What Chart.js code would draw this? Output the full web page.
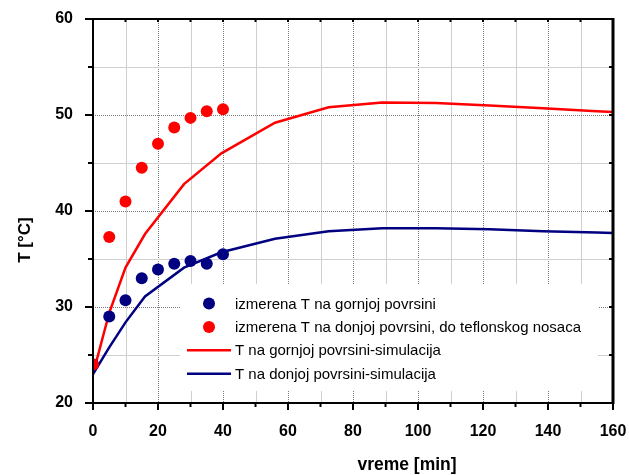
<!DOCTYPE html>
<html>
<head>
<meta charset="utf-8">
<script src="https://cdn.jsdelivr.net/npm/chart.js@4/dist/chart.umd.min.js"></script>
<style>
  html, body { margin: 0; padding: 0; background: #fff; }
  #wrap { width: 629px; height: 475px; }
</style>
</head>
<body>
<div id="wrap"><canvas id="chartTemp"></canvas></div>
<script>
// measured surface temperatures [min] -> [°C]
var timeMeasured = [0, 5, 10, 15, 20, 25, 30, 35, 40];
var tempTopMeasured = [24, 29.0, 30.7, 33.0, 33.9, 34.5, 34.8, 34.5, 35.5];
var tempBottomMeasured = [24, 37.3, 41.0, 44.5, 47.0, 48.7, 49.7, 50.4, 50.6];

// simulation output
var timeSim = [0, 5, 10, 16, 28, 39.5, 56, 72.5, 89, 105.5, 122, 138.5, 155, 160];
var tempTopSim = [23.0, 29.4, 34.1, 37.6, 42.8, 46.0, 49.2, 50.8, 51.3, 51.25, 51.0, 50.7, 50.4, 50.3];
var tempBottomSim = [23.0, 25.8, 28.4, 31.1, 34.1, 35.7, 37.1, 37.9, 38.2, 38.2, 38.1, 37.9, 37.75, 37.7];

var seriesLabels = [
	'izmerena T na gornjoj povrsini',
	'izmerena T na donjoj povrsini, do teflonskog nosaca',
	'T na gornjoj povrsini-simulacija',
	'T na donjoj povrsini-simulacija'
];

var xTitle = 'vreme [min]';
var yTitle = 'T [°C]';

var RED = '#ff0000';
var NAVY = '#000080';

function toPoints(xs, ys) {
	var pts = [];
	for (var i = 0; i < xs.length; i++) pts.push({ x: xs[i], y: ys[i] });
	return pts;
}

// grid, frame and tick marks are drawn here so major/minor lines can differ
var framePlugin = {
	id: 'frame',
	beforeDatasetsDraw: function(chart) {
		var ctx = chart.ctx, a = chart.chartArea;
		var xs = chart.scales.x, ys = chart.scales.y;
		ctx.save();
		for (var v = 10; v < 160; v += 10) {
			var px = Math.round(xs.getPixelForValue(v)) + 0.5;
			gridLine(ctx, px, a.top, px, a.bottom, v % 20 === 0);
		}
		for (var w = 25; w < 60; w += 5) {
			var py = Math.round(ys.getPixelForValue(w)) + 0.5;
			gridLine(ctx, a.left, py, a.right, py, w % 10 === 0);
		}
		ctx.restore();
	},
	afterDatasetsDraw: function(chart) {
		var ctx = chart.ctx, a = chart.chartArea;
		var xs = chart.scales.x, ys = chart.scales.y;
		ctx.save();
		ctx.strokeStyle = '#000';
		ctx.setLineDash([]);

		// tick marks
		ctx.lineWidth = 2;
		for (var v = 0; v <= 160; v += 10) {
			var px = xs.getPixelForValue(v);
			var major = v % 20 === 0;
			line(ctx, px, a.bottom, px, a.bottom + (major ? 7 : 4));
			line(ctx, px, a.top, px, a.top + 3);
		}
		for (var w = 20; w <= 60; w += 5) {
			var py = ys.getPixelForValue(w);
			var majorY = w % 10 === 0;
			line(ctx, a.left, py, a.left - (majorY ? 8 : 5), py);
			line(ctx, a.right, py, a.right - 4, py);
		}

		// axis box
		ctx.lineWidth = 2;
		line(ctx, a.left, a.top, a.left, a.bottom + 1);
		line(ctx, a.left - 1, a.bottom, a.right, a.bottom);
		line(ctx, a.left - 1, a.top, a.right, a.top);
		ctx.lineWidth = 3;
		line(ctx, a.right, a.top - 1, a.right, a.bottom + 1);

		drawLegend(chart);

		// axis titles
		ctx.fillStyle = '#000';
		ctx.textAlign = 'center';
		ctx.textBaseline = 'middle';
		ctx.font = 'bold 17.5px "Liberation Sans", Arial, sans-serif';
		ctx.fillText(xTitle, 407, 465);
		ctx.translate(25, 240);
		ctx.rotate(-Math.PI / 2);
		ctx.font = 'bold 17px "Liberation Sans", Arial, sans-serif';
		ctx.fillText(yTitle, 0, 0);
		ctx.restore();
	}
};

function line(ctx, x1, y1, x2, y2) {
	ctx.beginPath();
	ctx.moveTo(x1, y1);
	ctx.lineTo(x2, y2);
	ctx.stroke();
}

function gridLine(ctx, x1, y1, x2, y2, major) {
	ctx.lineWidth = 1;
	if (major) {
		ctx.strokeStyle = '#7a7a7a';
		ctx.setLineDash([1, 1]);
	} else {
		ctx.strokeStyle = '#cfcfcf';
		ctx.setLineDash([]);
	}
	line(ctx, x1, y1, x2, y2);
	ctx.setLineDash([]);
}

function drawLegend(chart) {
	var ctx = chart.ctx;
	var sets = chart.data.datasets;
	ctx.fillStyle = '#fff';
	ctx.fillRect(180, 284, 418, 107);
	ctx.font = '15px "Liberation Sans", Arial, sans-serif';
	ctx.textAlign = 'left';
	ctx.textBaseline = 'middle';
	for (var i = 0; i < sets.length; i++) {
		var ds = sets[i];
		var y = 303.5 + i * 23.4;
		if (ds.showLine) {
			ctx.strokeStyle = ds.borderColor;
			ctx.lineWidth = 2.5;
			line(ctx, 187, y, 231, y);
		} else {
			ctx.fillStyle = ds.backgroundColor;
			ctx.beginPath();
			ctx.arc(209, y, 6, 0, Math.PI * 2);
			ctx.fill();
		}
		ctx.fillStyle = '#000';
		ctx.fillText(ds.label, 235, y + 1);
	}
}

var tickFont = { family: '"Liberation Sans", Arial, sans-serif', size: 16, weight: 'bold' };

var ctxTemp = document.getElementById('chartTemp').getContext('2d');
var chartTemp = new Chart(ctxTemp, {
	type: 'scatter',
	data: {
		datasets: [{
			label: seriesLabels[0],
			data: toPoints(timeMeasured, tempTopMeasured),
			backgroundColor: NAVY,
			borderColor: NAVY,
			pointRadius: 6,
			borderWidth: 0,
			showLine: false,
			order: 3
		}, {
			label: seriesLabels[1],
			data: toPoints(timeMeasured, tempBottomMeasured),
			backgroundColor: RED,
			borderColor: RED,
			pointRadius: 6,
			borderWidth: 0,
			showLine: false,
			order: 2
		}, {
			label: seriesLabels[2],
			data: toPoints(timeSim, tempTopSim),
			borderColor: RED,
			backgroundColor: RED,
			borderWidth: 2.5,
			pointRadius: 0,
			showLine: true,
			order: 5
		}, {
			label: seriesLabels[3],
			data: toPoints(timeSim, tempBottomSim),
			borderColor: NAVY,
			backgroundColor: NAVY,
			borderWidth: 2.5,
			pointRadius: 0,
			showLine: true,
			order: 4
		}]
	},
	options: {
		responsive: true,
		maintainAspectRatio: false,
		animation: false,
		events: [],
		layout: { padding: { left: 0, right: 16, top: 19, bottom: 0 } },
		plugins: {
			legend: { display: false },
			tooltip: { enabled: false }
		},
		scales: {
			x: {
				type: 'linear',
				min: 0,
				max: 160,
				grid: { display: false },
				border: { display: false },
				ticks: { stepSize: 20, color: '#000', font: tickFont, padding: 11, maxRotation: 0 },
				afterFit: function(s) {
					s.height = 72;
					s.paddingLeft = 0;
					s.paddingRight = 0;
				}
			},
			y: {
				min: 20,
				max: 60,
				grid: { display: false },
				border: { display: false },
				ticks: { stepSize: 10, color: '#000', font: tickFont, padding: 12 },
				afterFit: function(s) {
					s.width = 93;
					s.paddingTop = 0;
					s.paddingBottom = 0;
				}
			}
		}
	},
	plugins: [framePlugin]
});
</script>
</body>
</html>
